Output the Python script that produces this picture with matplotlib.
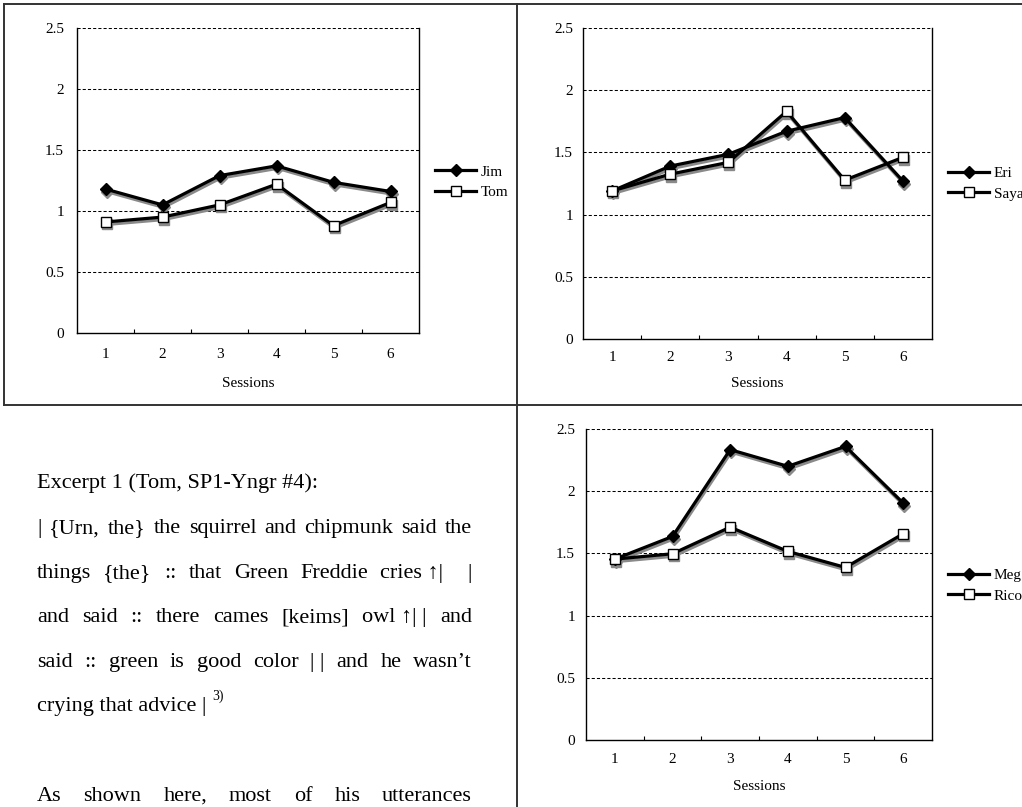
import matplotlib
matplotlib.use('Agg')
import matplotlib.pyplot as plt
import matplotlib.transforms as mtransforms
from matplotlib.lines import Line2D

W, H = 1022, 807
plt.rcParams['font.family'] = ['Liberation Serif', 'DejaVu Serif']

# data
sessions = [1, 2, 3, 4, 5, 6]
jim = [1.18, 1.05, 1.29, 1.37, 1.235, 1.16]
tom = [0.91, 0.95, 1.05, 1.22, 0.88, 1.07]
eri = [1.19, 1.39, 1.485, 1.67, 1.78, 1.27]
saya = [1.19, 1.325, 1.42, 1.83, 1.277, 1.46]
meg = [1.454, 1.636, 2.334, 2.20, 2.36, 1.905]
rico = [1.454, 1.497, 1.711, 1.516, 1.387, 1.658]
y_ticks = [0, 0.5, 1, 1.5, 2, 2.5]
y_tick_labels = ['0', '0.5', '1', '1.5', '2', '2.5']
x_title = 'Sessions'

excerpt_title = 'Excerpt 1 (Tom, SP1-Yngr #4):'
excerpt_body = [
    ['|', '{Urn,', 'the}', 'the', 'squirrel', 'and', 'chipmunk', 'said', 'the'],
    ['things', '{the}', '::', 'that', 'Green', 'Freddie', 'cries \u2191|', None, '|'],
    ['and', 'said', '::', 'there', 'cames', '[keims]', 'owl \u2191| |', 'and'],
    ['said', '::', 'green', 'is', 'good', 'color', '| |', 'and', 'he', 'wasn\u2019t'],
]
excerpt_last = 'crying that advice |'
excerpt_note = '3)'
following = ['As', 'shown', 'here,', 'most', 'of', 'his', 'utterances']


def fx(x):
    return x / W


def fy(y):
    return 1 - y / H


def rect(l, t, r, b):
    return [fx(l), fy(b), (r - l) / W, (b - t) / H]


def panel(fig, box, s1, s2, names, ypad, xpad, leg_xy, title_y):
    ax = fig.add_axes(rect(*box))
    ax.set_xlim(0.5, 6.5)
    ax.set_ylim(0, 2.5)
    for v in y_ticks[1:]:
        ax.axhline(v, color='black', lw=0.75, ls=(0, (3, 2)), zorder=1)
    ax.spines['top'].set_visible(False)
    for s in ['left', 'right', 'bottom']:
        ax.spines[s].set_linewidth(1.0)
    ax.set_yticks(y_ticks)
    ax.set_yticklabels(y_tick_labels)
    ax.set_xticks(sessions)
    ax.set_xticks([1.5, 2.5, 3.5, 4.5, 5.5], minor=True)
    ax.tick_params(axis='y', length=0, pad=ypad, labelsize=11)
    ax.tick_params(axis='x', which='major', length=0, pad=xpad, labelsize=11)
    ax.tick_params(axis='x', which='minor', direction='in', length=3, width=0.8)

    shadow = mtransforms.offset_copy(ax.transData, fig=fig, x=1, y=-2.5, units='dots')
    styles = [dict(marker='D', ms=6.2, mfc='black', mec='black'),
              dict(marker='s', ms=7.3, mfc='white', mec='black')]
    handles = []
    for vals, st, name in zip([s1, s2], styles, names):
        ax.plot(sessions, vals, color='#8a8a8a', lw=2.3, marker=st['marker'],
                ms=st['ms'], mfc='#8a8a8a', mec='#8a8a8a', transform=shadow,
                zorder=2, clip_on=False)
        h, = ax.plot(sessions, vals, color='black', lw=2.3, mew=1.0, zorder=3,
                     clip_on=False, label=name, **st)
        handles.append(h)
    ax.legend(handles=handles, loc='center left', bbox_to_anchor=(fx(leg_xy[0]), fy(leg_xy[1])),
              bbox_transform=fig.transFigure, frameon=False, fontsize=11, borderpad=0,
              borderaxespad=0, handlelength=2.7, handletextpad=0.3, labelspacing=0.45,
              numpoints=1)
    fig.text(fx((box[0] + box[2]) / 2), fy(title_y), x_title, fontsize=11,
             ha='center', va='baseline')
    return ax


fig = plt.figure(figsize=(W / 100, H / 100), dpi=100)

# page frame lines
frame = dict(color='#333333', lw=1.4)
for xs, ys in [([4, 1022], [4, 4]), ([4, 4], [4, 405]), ([4, 1022], [405, 405]),
               ([517, 517], [4, 807])]:
    fig.add_artist(Line2D([fx(x) for x in xs], [fy(y) for y in ys], **frame))

panel(fig, (77, 28, 419, 333), jim, tom, ['Jim', 'Tom'], 9.4, 10.8, (435, 182), 387)
panel(fig, (583, 28, 932, 339), eri, saya, ['Eri', 'Saya'], 7.2, 8.7, (948, 183.5), 387)
panel(fig, (586, 429, 932, 740), meg, rico, ['Meg', 'Rico'], 8.0, 9.5, (948, 585.5), 789.5)

# excerpt text block
renderer = fig.canvas.get_renderer()
FS = 16
x0, x1 = 37, 472


def justify(tokens, y):
    texts, widths = [], []
    for tok in tokens:
        if tok is None:
            texts.append(None)
            widths.append(0)
            continue
        t = fig.text(0, 0, tok, fontsize=FS, va='baseline', ha='left')
        texts.append(t)
        widths.append(t.get_window_extent(renderer).width)
    gap = (x1 - x0 - sum(widths)) / (len(tokens) - 1)
    x = x0
    for t, w in zip(texts, widths):
        if t is not None:
            t.set_position((fx(x), fy(y)))
        x += w + gap


fig.text(fx(x0), fy(488), excerpt_title, fontsize=FS, va='baseline')
for i, tokens in enumerate(excerpt_body):
    justify(tokens, 533 + 44.6 * i)
last = fig.text(fx(x0), fy(711), excerpt_last, fontsize=FS, va='baseline')
lw_ = last.get_window_extent(renderer).width
fig.text(fx(x0 + lw_ + 6), fy(700), excerpt_note, fontsize=10, va='baseline')
justify(following, 801)

fig.savefig('out.png', dpi=100)
